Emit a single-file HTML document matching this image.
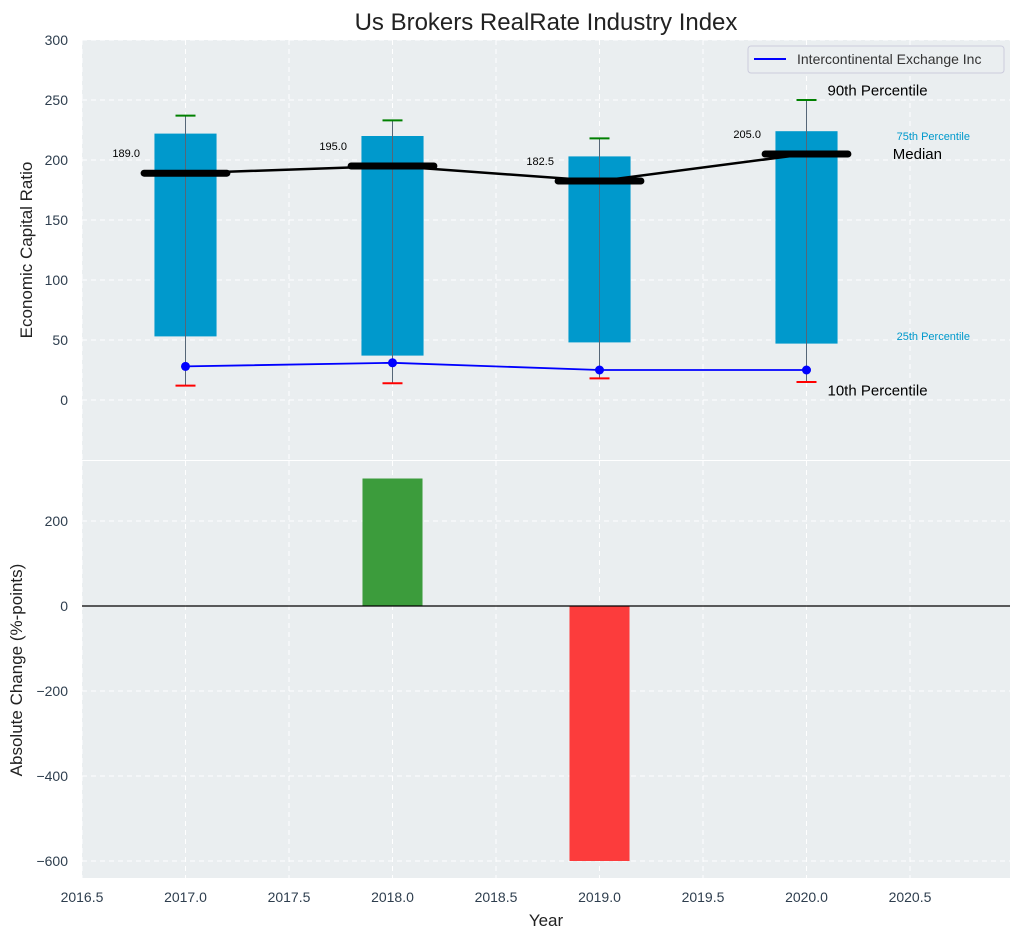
<!DOCTYPE html>
<html><head><meta charset="utf-8"><style>
body{margin:0;background:#fff;}
svg{font-family:"Liberation Sans",sans-serif;}
</style></head><body>
<svg id="c" width="1021" height="940" xmlns="http://www.w3.org/2000/svg"></svg>
<script>
const years=[2017,2018,2019,2020];
const p10=[12,14,18,15];
const p25=[53,37,48,47];
const medians=[189,195,182.5,205];
const p75=[222,220,203,224];
const p90=[237,233,218,250];
const company=[28,31,25,25];
const changes=[0,300,-600,0];
const xTicks=[2016.5,2017,2017.5,2018,2018.5,2019,2019.5,2020,2020.5];
const yTicksTop=[0,50,100,150,200,250,300];
const yTicksBot=[-600,-400,-200,0,200];

const svg=document.getElementById('c');
const NS='http://www.w3.org/2000/svg';
function el(t,a,txt){const e=document.createElementNS(NS,t);for(const k in a)e.setAttribute(k,a[k]);if(txt!==undefined)e.textContent=txt;svg.appendChild(e);return e;}
const L=82,R=1010;
const X=v=>L+(v-2016.5)*207;
const T0=40,T1=460;const Yt=v=>T0+(300-v)*1.2;
const B0=461,B1=878;const Yb=v=>606-v*0.425;

let e=el('rect',{x:L,y:T0,width:R-L,height:T1-T0,fill:'#eaeef0'});

e=el('rect',{x:L,y:B0,width:R-L,height:B1-B0,fill:'#eaeef0'});

xTicks.forEach(v=>{
 el('line',{x1:X(v),x2:X(v),y1:T0,y2:T1,stroke:'#fff','stroke-dasharray':'5,4','stroke-width':1});
 el('line',{x1:X(v),x2:X(v),y1:B0,y2:B1,stroke:'#fff','stroke-dasharray':'5,4','stroke-width':1});
 e=el('text',{x:X(v),y:902,'text-anchor':'middle','font-size':14,fill:'#2e3e4e'},v.toFixed(1));
 
});
yTicksTop.forEach(v=>{
 el('line',{x1:L,x2:R,y1:Yt(v),y2:Yt(v),stroke:'#fff','stroke-dasharray':'5,4'});
 e=el('text',{x:68,y:Yt(v)+5,'text-anchor':'end','font-size':14,fill:'#2e3e4e'},v);
 
});
yTicksBot.forEach(v=>{
 el('line',{x1:L,x2:R,y1:Yb(v),y2:Yb(v),stroke:'#fff','stroke-dasharray':'5,4'});
 e=el('text',{x:68,y:Yb(v)+5,'text-anchor':'end','font-size':14,fill:'#2e3e4e'},v<0?'\u2212'+(-v):v);
 
});
const bw=0.15;
years.forEach((y,i)=>{
 e=el('rect',{x:X(y-bw),y:Yt(p75[i]),width:X(y+bw)-X(y-bw),height:Yt(p25[i])-Yt(p75[i]),fill:'#0099cc'});
 
 el('line',{x1:X(y),x2:X(y),y1:Yt(p90[i]),y2:Yt(p10[i]),stroke:'#556677','stroke-width':1});
 e=el('line',{x1:X(y)-10,x2:X(y)+10,y1:Yt(p90[i]),y2:Yt(p90[i]),stroke:'green','stroke-width':2});
 
 e=el('line',{x1:X(y)-10,x2:X(y)+10,y1:Yt(p10[i]),y2:Yt(p10[i]),stroke:'red','stroke-width':2});
 
});
e=el('polyline',{points:years.map((y,i)=>X(y)+','+Yt(medians[i])).join(' '),fill:'none',stroke:'#000','stroke-width':2.5});

years.forEach((y,i)=>{
 e=el('line',{x1:X(y-0.2),x2:X(y+0.2),y1:Yt(medians[i]),y2:Yt(medians[i]),stroke:'#000','stroke-width':7,'stroke-linecap':'round'});
 
 e=el('text',{x:X(y-0.22),y:Yt(medians[i])-16,'text-anchor':'end','font-size':11,fill:'#000'},medians[i].toFixed(1));
 
});
e=el('polyline',{points:years.map((y,i)=>X(y)+','+Yt(company[i])).join(' '),fill:'none',stroke:'#0000ff','stroke-width':1.8});

years.forEach((y,i)=>{e=el('circle',{cx:X(y),cy:Yt(company[i]),r:4.5,fill:'#0000ff'});
 });
const last=years.length-1,ax=X(years[last])+21;
[['90th Percentile',p90[last]+8,15,'#000',ax,'start'],['Median',medians[last]+0,15,'#000',942,'end'],
 ['75th Percentile',p75[last]-3,11,'#0099cc',970,'end'],['25th Percentile',p25[last]+7,11,'#0099cc',970,'end'],
 ['10th Percentile',p10[last]-7,15,'#000',ax,'start']].forEach(a=>{
 e=el('text',{x:a[4],y:Yt(a[1])+5,'font-size':a[2],fill:a[3],'text-anchor':a[5]},a[0]);
 
});
e=el('rect',{x:748,y:46,width:256,height:27,rx:3,fill:'#eaeef0',stroke:'#ccd',});

el('line',{x1:754,x2:786,y1:59,y2:59,stroke:'#0000ff','stroke-width':2});
e=el('text',{x:797,y:64,'font-size':14,fill:'#333'},'Intercontinental Exchange Inc');

years.forEach((y,i)=>{if(!changes[i])return;
 const v=changes[i];
 e=el('rect',{x:X(y-0.145),y:Math.min(Yb(0),Yb(v)),width:X(y+0.145)-X(y-0.145),height:Math.abs(Yb(v)-Yb(0)),fill:v>0?'#3c9c3c':'#fc3c3c'});
 
});
el('line',{x1:L,x2:R,y1:Yb(0),y2:Yb(0),stroke:'#000','stroke-width':1.2});
e=el('text',{x:546,y:30,'text-anchor':'middle','font-size':24,fill:'#222'},'Us Brokers RealRate Industry Index');

e=el('text',{x:546,y:926,'text-anchor':'middle','font-size':17,fill:'#222'},'Year');

e=el('text',{x:32,y:250,'text-anchor':'middle','font-size':17,fill:'#222',transform:'rotate(-90 32 250)'},'Economic Capital Ratio');

e=el('text',{x:22,y:670,'text-anchor':'middle','font-size':17,fill:'#222',transform:'rotate(-90 22 670)'},'Absolute Change (%-points)');

</script>
</body></html>
